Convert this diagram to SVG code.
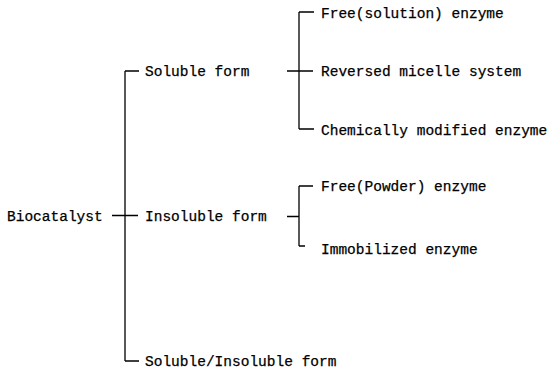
<svg xmlns="http://www.w3.org/2000/svg" width="549" height="374" viewBox="0 0 549 374">
<style>
text{font-family:"Liberation Mono","DejaVu Sans Mono",monospace;font-size:14.5px;fill:#000;stroke:#000;stroke-width:0.25}
.ln{stroke:#000;stroke-width:1.3;fill:none}
</style>
<rect width="549" height="374" fill="#fff"/>
<g id="connectors">
<path class="ln" d="M112 215.5H138 M125 71V361 M125 71H139 M125 361H139"/>
<path class="ln" d="M287 71H313 M299 12V129 M299 12H314 M299 129H314"/>
<path class="ln" d="M287 216.5H299 M299 186V246 M299 186H313 M299 246H305"/>
</g>
<g id="biocatalyst"><text x="7" y="221">Biocatalyst</text></g>
<g id="soluble"><text x="145" y="76">Soluble form</text></g>
<g id="insoluble"><text x="145" y="221">Insoluble form</text></g>
<g id="soluble-insoluble"><text x="145" y="366">Soluble/Insoluble form</text></g>
<g id="free-solution"><text x="321" y="18">Free(solution) enzyme</text></g>
<g id="reversed"><text x="321" y="76">Reversed micelle system</text></g>
<g id="chemically"><text x="321" y="135">Chemically modified enzyme</text></g>
<g id="free-powder"><text x="321" y="191">Free(Powder) enzyme</text></g>
<g id="immobilized"><text x="321" y="254">Immobilized enzyme</text></g>
</svg>
